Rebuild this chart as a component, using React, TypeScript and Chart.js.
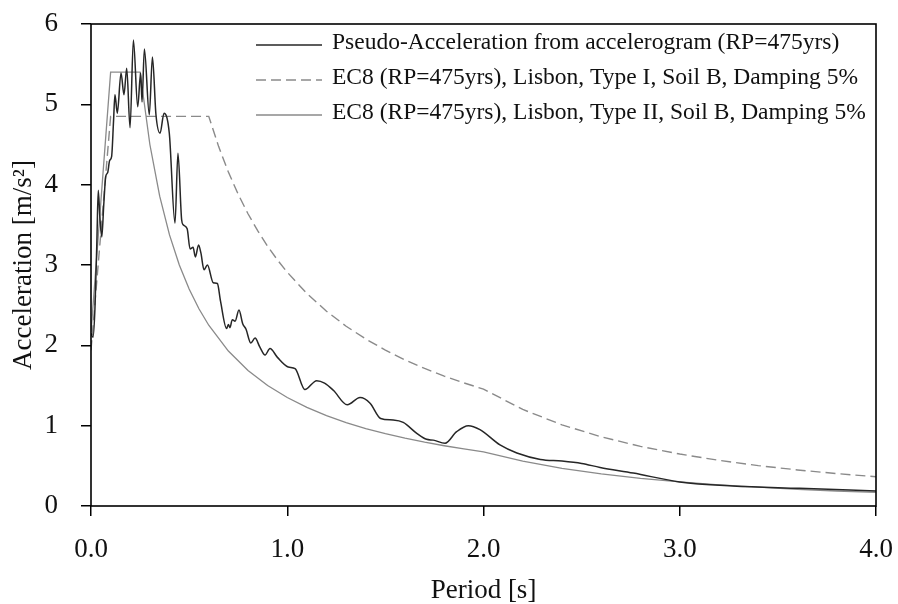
import React, { useEffect, useRef } from "react";
import { Chart, registerables } from "chart.js";

Chart.register(...registerables);

// Pseudo-acceleration response from accelerogram (RP=475yrs)
const accPeriod = [
  0.0, 0.01, 0.02, 0.03, 0.037, 0.045, 0.055, 0.065, 0.075, 0.085, 0.095, 0.105, 0.115, 0.122,
  0.134, 0.153, 0.168, 0.182, 0.199, 0.216, 0.238, 0.253, 0.26, 0.272, 0.297, 0.313, 0.331,
  0.352, 0.372, 0.399, 0.428, 0.443, 0.462, 0.47, 0.49, 0.505, 0.52, 0.532, 0.548, 0.56, 0.576,
  0.593, 0.623, 0.644, 0.66, 0.691, 0.7, 0.708, 0.72, 0.734, 0.754, 0.773, 0.79, 0.814, 0.836,
  0.86, 0.887, 0.912, 0.95, 1.005, 1.04, 1.09, 1.15, 1.19, 1.235, 1.306, 1.371, 1.422, 1.476,
  1.54, 1.591, 1.66, 1.71, 1.744, 1.804, 1.863, 1.923, 1.982, 2.084, 2.17, 2.29, 2.4, 2.5,
  2.594, 2.763, 3.0, 3.27, 3.61, 4.0,
];
const accValue = [
  2.15, 2.1, 2.45, 3.3, 3.93, 3.6, 3.35, 3.75, 4.1, 4.15, 4.3, 4.35, 4.8, 5.12,
  4.89, 5.39, 5.12, 5.45, 4.71, 5.8, 4.97, 5.39, 5.03, 5.69, 4.87, 5.59, 4.87,
  4.64, 4.89, 4.64, 3.52, 4.39, 3.56, 3.5, 3.45, 3.2, 3.22, 3.1, 3.25, 3.15, 2.94,
  3.0, 2.78, 2.77, 2.55, 2.21, 2.26, 2.22, 2.32, 2.3, 2.44, 2.27, 2.2, 2.03, 2.09,
  1.98, 1.88, 1.96, 1.85, 1.73, 1.71, 1.45, 1.56, 1.53, 1.44, 1.26, 1.35, 1.28, 1.09,
  1.07, 1.04, 0.905, 0.83, 0.82, 0.78, 0.925, 1.0, 0.95, 0.76, 0.66, 0.58, 0.56, 0.53,
  0.48, 0.41, 0.3, 0.25, 0.22, 0.187,
];

// EC8 Type I spectrum
const ec8IPeriod = [
  0.0, 0.1, 0.6, 0.65, 0.7, 0.75, 0.8, 0.85, 0.9, 0.95, 1.0, 1.1, 1.2, 1.3, 1.4, 1.5, 1.6,
  1.7, 1.8, 1.9, 2.0, 2.2, 2.4, 2.6, 2.8, 3.0, 3.2, 3.4, 3.6, 3.8, 4.0,
];
const ec8IValue = [
  1.94, 4.85, 4.85, 4.477, 4.157, 3.88, 3.638, 3.424, 3.233, 3.063, 2.91, 2.645, 2.425, 2.238,
  2.079, 1.94, 1.819, 1.712, 1.617, 1.532, 1.455, 1.202, 1.01, 0.861, 0.742, 0.647, 0.568,
  0.503, 0.449, 0.403, 0.364,
];

// EC8 Type II spectrum
const ec8IIPeriod = [
  0.0, 0.1, 0.25, 0.3, 0.35, 0.4, 0.45, 0.5, 0.55, 0.6, 0.7, 0.8, 0.9, 1.0, 1.1, 1.2, 1.3,
  1.4, 1.5, 1.6, 1.7, 1.8, 1.9, 2.0, 2.2, 2.4, 2.6, 2.8, 3.0, 3.2, 3.4, 3.6, 3.8, 4.0,
];
const ec8IIValue = [
  2.16, 5.4, 5.4, 4.5, 3.857, 3.375, 3.0, 2.7, 2.455, 2.25, 1.929, 1.688, 1.5, 1.35, 1.227,
  1.125, 1.038, 0.964, 0.9, 0.844, 0.794, 0.75, 0.711, 0.675, 0.558, 0.469, 0.399, 0.344,
  0.3, 0.264, 0.234, 0.208, 0.187, 0.169,
];

const seriesLabels = [
  "Pseudo-Acceleration from accelerogram (RP=475yrs)",
  "EC8 (RP=475yrs), Lisbon, Type I, Soil B, Damping 5%",
  "EC8 (RP=475yrs), Lisbon, Type II, Soil B, Damping 5%",
];
const xTitle = "Period [s]";
const yTitle = "Acceleration [m/s²]";

const SERIF = "'Liberation Serif', 'Times New Roman', serif";

const toPoints = (xs: number[], ys: number[]) => xs.map((x, i) => ({ x, y: ys[i] }));

const frameAndLegend = {
  id: "frameAndLegend",
  afterDraw(chart: any) {
    const { ctx, chartArea } = chart;
    const { left, top, right, bottom } = chartArea;
    ctx.save();
    ctx.strokeStyle = "#000";
    ctx.lineWidth = 1.6;
    ctx.setLineDash([]);
    ctx.strokeRect(left, top, right - left, bottom - top);

    const items = chart.data.datasets;
    ctx.font = `23.5px ${SERIF}`;
    ctx.fillStyle = "#111";
    ctx.textBaseline = "alphabetic";
    ctx.textAlign = "left";
    items.forEach((ds: any, i: number) => {
      const lineY = top + 21 + i * 35;
      const textY = top + 25 + i * 35;
      ctx.beginPath();
      ctx.strokeStyle = ds.borderColor;
      ctx.lineWidth = ds.borderWidth;
      ctx.setLineDash(ds.borderDash || []);
      ctx.moveTo(left + 165, lineY);
      ctx.lineTo(left + 231, lineY);
      ctx.stroke();
      ctx.setLineDash([]);
      ctx.fillText(ds.label, left + 241, textY);
    });
    ctx.restore();
  },
};

export default function App() {
  const canvasRef = useRef<HTMLCanvasElement | null>(null);

  useEffect(() => {
    const canvas = canvasRef.current;
    if (!canvas) return;
    const chart = new Chart(canvas, {
      type: "line",
      data: {
        datasets: [
          {
            label: seriesLabels[0],
            data: toPoints(accPeriod, accValue),
            borderColor: "#262626",
            borderWidth: 1.5,
            pointRadius: 0,
            cubicInterpolationMode: "monotone",
            fill: false,
          },
          {
            label: seriesLabels[1],
            data: toPoints(ec8IPeriod, ec8IValue),
            borderColor: "#8a8a8a",
            borderWidth: 1.4,
            borderDash: [10, 5],
            pointRadius: 0,
            tension: 0,
            fill: false,
          },
          {
            label: seriesLabels[2],
            data: toPoints(ec8IIPeriod, ec8IIValue),
            borderColor: "#8a8a8a",
            borderWidth: 1.3,
            pointRadius: 0,
            tension: 0,
            fill: false,
          },
        ],
      },
      options: {
        responsive: false,
        animation: false,
        devicePixelRatio: 1,
        layout: { padding: { top: 24, right: 22, left: 0, bottom: 0 } },
        plugins: {
          legend: { display: false },
          tooltip: { enabled: false },
        },
        scales: {
          x: {
            type: "linear",
            min: 0,
            max: 4,
            border: { display: false },
            grid: {
              drawOnChartArea: false,
              drawTicks: true,
              tickLength: 10,
              tickColor: "#000",
              lineWidth: 1.5,
            },
            ticks: {
              stepSize: 1,
              padding: 20,
              color: "#111",
              font: { family: SERIF, size: 27, lineHeight: 1 },
              callback: (v: any) => Number(v).toFixed(1),
              maxRotation: 0,
            },
            title: {
              display: true,
              text: xTitle,
              color: "#111",
              font: { family: SERIF, size: 27, lineHeight: 1 },
              padding: { top: 0, bottom: 0 },
            },
            afterFit: (scale: any) => {
              scale.height = 98;
              scale.paddingLeft = 0;
              scale.paddingRight = 0;
            },
          },
          y: {
            type: "linear",
            min: 0,
            max: 6,
            border: { display: false },
            grid: {
              drawOnChartArea: false,
              drawTicks: true,
              tickLength: 10,
              tickColor: "#000",
              lineWidth: 1.5,
            },
            ticks: {
              stepSize: 1,
              padding: 23,
              color: "#111",
              font: { family: SERIF, size: 27, lineHeight: 1 },
            },
            title: {
              display: true,
              text: yTitle,
              color: "#111",
              font: { family: SERIF, size: 27, lineHeight: 1 },
              padding: { top: 10, bottom: 0 },
            },
            afterFit: (scale: any) => {
              scale.width = 91;
              scale.paddingTop = 0;
              scale.paddingBottom = 0;
            },
          },
        },
      },
      plugins: [frameAndLegend],
    });
    return () => chart.destroy();
  }, []);

  return (
    <div style={{ position: "fixed", left: 0, top: 0, width: 898, height: 604, background: "#fff" }}>
      <canvas ref={canvasRef} width={898} height={604} style={{ display: "block" }} />
    </div>
  );
}
